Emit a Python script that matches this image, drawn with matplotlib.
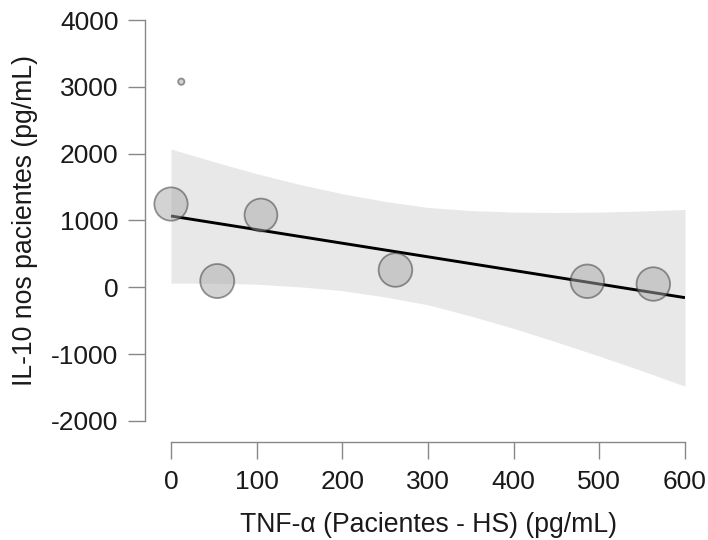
import numpy as np
import matplotlib as mpl
mpl.use("Agg")
import matplotlib.pyplot as plt

plt.rcParams['font.family'] = ['Liberation Sans', 'DejaVu Sans']
plt.rcParams['axes.unicode_minus'] = False

# study points (TNF-a difference vs IL-10), bubble size = weight (%)
tnf = [0, 12, 54, 105, 262, 486, 563]
il10 = [1246, 3077, 94, 1082, 259, 90, 49]
weight = [16.6, 0.6, 17.3, 16.1, 16.9, 16.8, 16.8]

# fitted line and 95% band
fit_x = [0, 600]
fit_y = [1067, -155]
band_x = [0, 50, 100, 150, 200, 250, 300, 350, 400, 450, 500, 550, 600]
band_hi = [2069, 1880, 1700, 1540, 1400, 1285, 1195, 1148, 1125, 1120, 1125, 1142, 1164]
band_lo = [62, 62, 46, 8, -50, -145, -262, -430, -615, -818, -1030, -1250, -1480]

fig = plt.figure(figsize=(7.08, 5.4), dpi=100)
ax = fig.add_axes([145/708, 1-442/540, 540/708, 422/540])

ax.fill_between(band_x, band_lo, band_hi, color='#e8e8e8', lw=0, zorder=1)
ax.plot(fit_x, fit_y, color='black', lw=2.1, zorder=2, solid_capstyle='butt')
ax.scatter(tnf, il10, s=np.array(weight)*34.7, facecolor='#a9a9a9', alpha=0.5,
           edgecolor='#333333', linewidth=1.3, zorder=3, clip_on=False)

ax.set_xlim(-30.35, 600)
ax.set_ylim(-2315, 4000)
ax.set_xticks(range(0, 601, 100))
ax.set_yticks(range(-2000, 4001, 1000))

for s in ['top', 'right']:
    ax.spines[s].set_visible(False)
ax.spines['left'].set_bounds(-2000, 4000)
ax.spines['bottom'].set_bounds(0, 600)
for s in ['left', 'bottom']:
    ax.spines[s].set_color('#888888')
    ax.spines[s].set_linewidth(1.0)
ax.tick_params(axis='both', length=12, width=1.0, color='#888888',
               labelsize=19, labelcolor='#1a1a1a', pad=8)
ax.tick_params(axis='y', pad=7)

ax.set_xlabel('TNF-α (Pacientes - HS) (pg/mL)', fontsize=19.2, color='#1a1a1a')
ax.set_ylabel('IL-10 nos pacientes (pg/mL)', fontsize=19.2, color='#1a1a1a')
ax.xaxis.set_label_coords(((171+685)/2 - 145)/540, -70/422)
ax.yaxis.set_label_coords(-(145-38)/540, (442-220.5)/422)

fig.savefig('out.png', dpi=100)
